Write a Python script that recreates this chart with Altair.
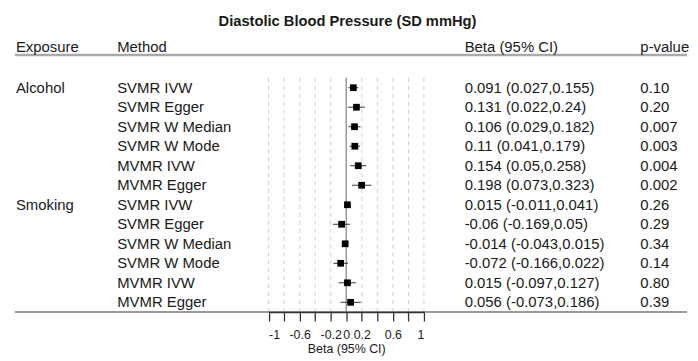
import altair as alt
import pandas as pd

title = "Diastolic Blood Pressure (SD mmHg)"
headers = ["Exposure", "Method", "Beta (95% CI)", "p-value"]
exposures = ["Alcohol", "Smoking"]
methods = ["SVMR IVW", "SVMR Egger", "SVMR W Median", "SVMR W Mode", "MVMR IVW", "MVMR Egger"]
beta = [0.091, 0.131, 0.106, 0.11, 0.154, 0.198, 0.015, -0.06, -0.014, -0.072, 0.015, 0.056]
lo = [0.027, 0.022, 0.029, 0.041, 0.05, 0.073, -0.011, -0.169, -0.043, -0.166, -0.097, -0.073]
hi = [0.155, 0.24, 0.182, 0.179, 0.258, 0.323, 0.041, 0.05, 0.015, 0.022, 0.127, 0.186]
pvals = ["0.10", "0.20", "0.007", "0.003", "0.004", "0.002", "0.26", "0.29", "0.34", "0.14", "0.80", "0.39"]
tick_values = [-1, -0.8, -0.6, -0.4, -0.2, 0, 0.2, 0.4, 0.6, 0.8, 1]
tick_labels_shown = [-1, -0.6, -0.2, 0, 0.2, 0.6, 1]

rows = []
for gi, exp in enumerate(exposures):
    for mi, m in enumerate(methods):
        i = gi * len(methods) + mi
        rows.append(dict(row=i, exposure=exp if mi == 0 else "", method=m,
                         beta=beta[i], lo=lo[i], hi=hi[i],
                         ci=f"{beta[i]} ({lo[i]},{hi[i]})", p=pvals[i]))
df = pd.DataFrame(rows)
grid_df = pd.DataFrame({"v": [v for v in tick_values if v != 0]})
zero_df = pd.DataFrame({"v": [0]})
one = alt.Data(values=[{"k": 1}])

FONT = "Liberation Sans"
TXT = "#1a1a1a"
W, H = 684, 283

xscale = alt.Scale(domain=[-1, 1], range=[262.5, 419], nice=False, zero=False)
yscale = alt.Scale(domain=[0, 11], range=[57, 273.2], nice=False, zero=False)
label_list = "[" + ",".join(str(v) for v in tick_labels_shown) + "]"
xaxis = alt.Axis(values=tick_values, labelExpr=f"indexof({label_list}, datum.value) >= 0 ? toString(datum.value) : ''",
                 labelOverlap=False, labelFont=FONT, labelFontSize=12.5, labelColor=TXT,
                 labelPadding=8, tickSize=9, tickColor="#333", tickWidth=1.3,
                 domainColor="#333", domainWidth=1.5, grid=False, zindex=1,
                 title="Beta (95% CI)", titleFont=FONT, titleFontSize=12.5,
                 titleFontWeight="normal", titleColor=TXT, titlePadding=1)


def X(field):
    return alt.X(f"{field}:Q", scale=xscale, axis=xaxis)


Y = alt.Y("row:Q", scale=yscale, axis=None)

grid = alt.Chart(grid_df).mark_rule(color="#cfcfcf", strokeWidth=1, strokeDash=[4, 4]).encode(
    x=X("v"), y=alt.value(47), y2=alt.value(H))
zero = alt.Chart(zero_df).mark_rule(color="#999999", strokeWidth=1.5).encode(
    x=X("v"), y=alt.value(47), y2=alt.value(H))
head_line = alt.Chart(one).mark_rule(color="#aaaaaa", strokeWidth=2.5).encode(
    x=alt.value(7), x2=alt.value(684), y=alt.value(24))
bottom_line = alt.Chart(one).mark_rule(color="#9a9a9a", strokeWidth=2).encode(
    x=alt.value(7), x2=alt.value(684), y=alt.value(H))
ci = alt.Chart(df).mark_rule(color="#333333", strokeWidth=1).encode(
    x=X("lo"), x2="hi:Q", y=Y)
pts = alt.Chart(df).mark_square(size=46, color="black", opacity=1).encode(x=X("beta"), y=Y)


def col_text(field, xpos):
    return alt.Chart(df).mark_text(align="left", baseline="middle", font=FONT, fontSize=15, color=TXT).encode(
        x=alt.value(xpos), y=Y, text=f"{field}:N")


def head_text(label, xpos):
    return alt.Chart(alt.Data(values=[{"h": label}])).mark_text(
        align="left", baseline="middle", font=FONT, fontSize=15, color=TXT).encode(
        x=alt.value(xpos), y=alt.value(16), text="h:N")


col_x = [8, 110, 460, 637]
layers = [grid, zero, head_line, bottom_line, ci, pts,
          col_text("exposure", col_x[0]), col_text("method", col_x[1]),
          col_text("ci", col_x[2]), col_text("p", col_x[3])]
layers += [head_text(h, x) for h, x in zip(headers, col_x)]

chart = alt.layer(*layers).properties(
    width=W, height=H,
    title=alt.TitleParams(text=title, font=FONT, fontSize=14.8, fontWeight="bold",
                          anchor="middle", color=TXT, offset=2),
    padding={"left": 0, "top": 5, "right": 0, "bottom": 0},
).configure_view(stroke=None)

chart.save("out.html", embed_options={"renderer": "svg", "actions": False})
